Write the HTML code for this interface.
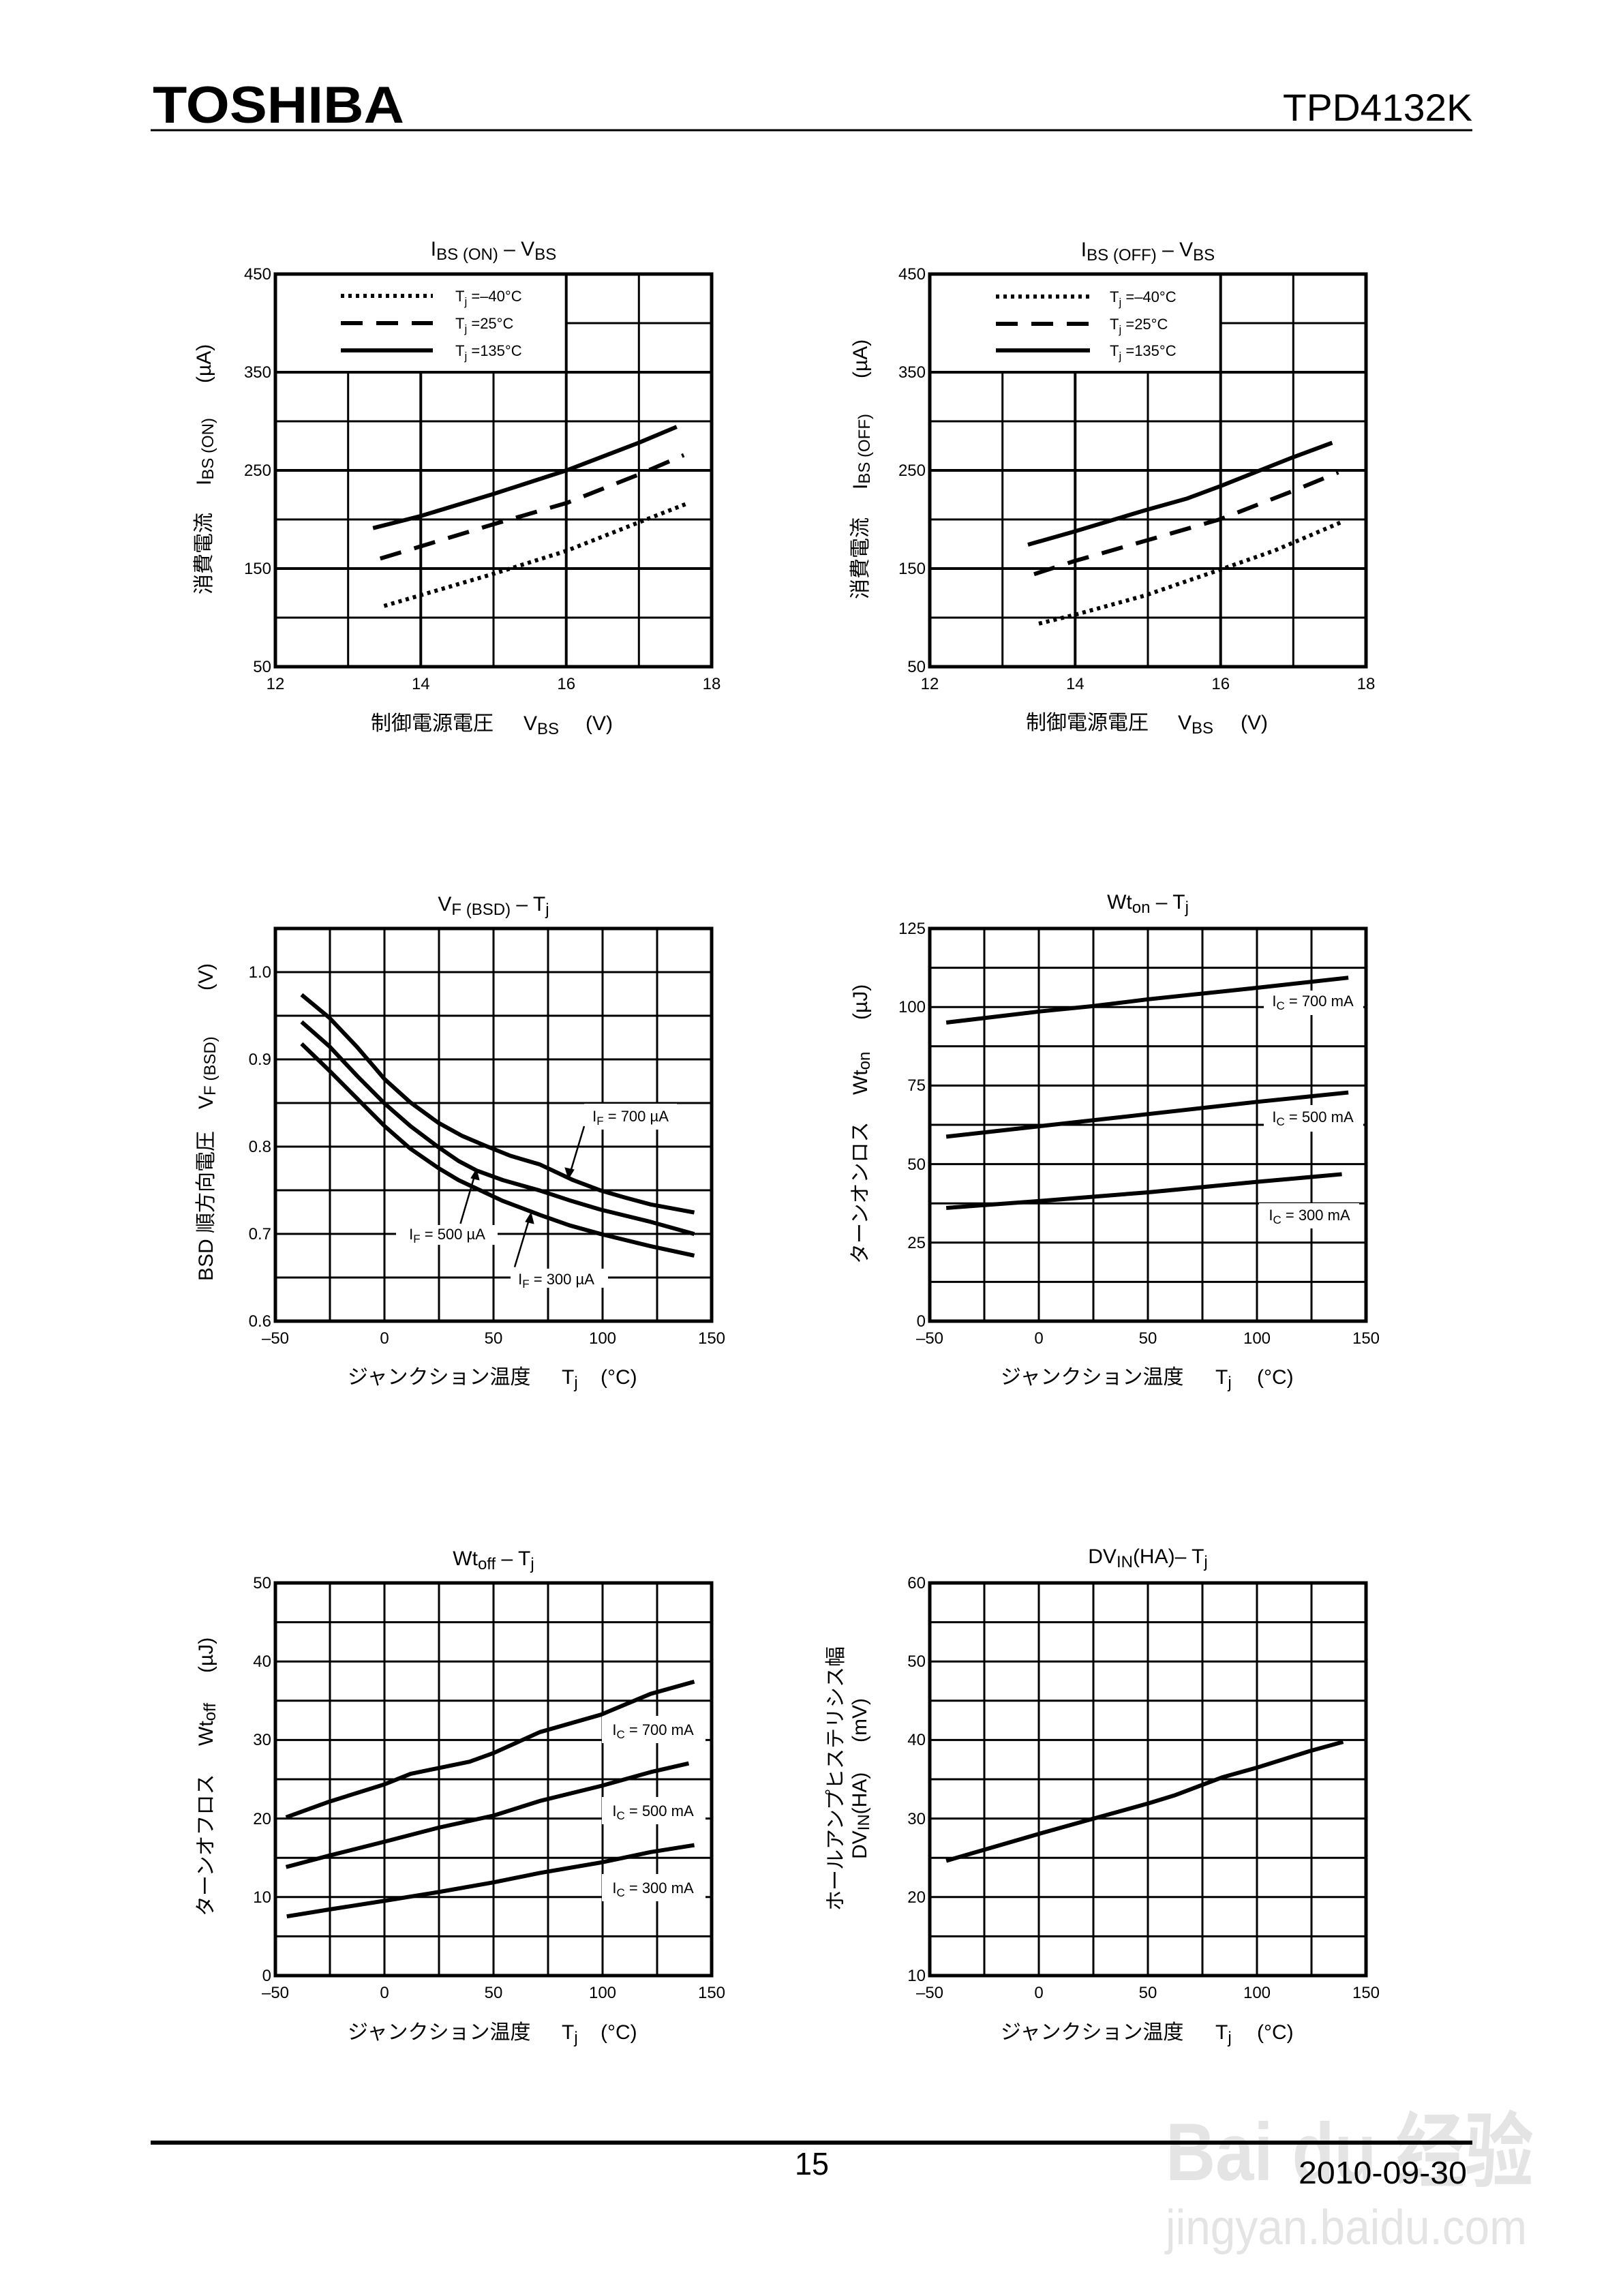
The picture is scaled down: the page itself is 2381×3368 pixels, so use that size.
<!DOCTYPE html>
<html><head><meta charset="utf-8"><style>
html,body{margin:0;padding:0;background:#fff}
svg{display:block}
text{font-family:"Liberation Sans","Noto Sans CJK JP",sans-serif;fill:#000}
.t{font-size:24px}
.ti{font-size:30px}
.ax{font-size:30px}
.lb{font-size:22px}
.c{fill:none;stroke:#000;stroke-width:6;stroke-linejoin:round;stroke-linecap:butt}
.g{stroke:#000;stroke-width:3}
.gm{stroke:#000;stroke-width:4}
.bx{fill:none;stroke:#000;stroke-width:5}
</style></head><body>
<svg width="2381" height="3368" viewBox="0 0 2381 3368" xmlns="http://www.w3.org/2000/svg">
<rect width="2381" height="3368" fill="#fff"/>
<!-- header -->
<text x="224" y="180" font-size="76" font-weight="bold" textLength="369" lengthAdjust="spacingAndGlyphs">TOSHIBA</text>
<text x="2160" y="177" font-size="56" text-anchor="end" textLength="278" lengthAdjust="spacingAndGlyphs">TPD4132K</text>
<line x1="221" y1="191" x2="2160" y2="191" stroke="#000" stroke-width="3"/>

<!-- ============ Chart 1 IBS(ON) ============ -->
<g>
<line class="g" x1="510.7" y1="546" x2="510.7" y2="978"/>
<line class="gm" x1="617.3" y1="546" x2="617.3" y2="978"/>
<line class="g" x1="724" y1="546" x2="724" y2="978"/>
<line class="gm" x1="830.7" y1="402" x2="830.7" y2="978"/>
<line class="g" x1="937.3" y1="402" x2="937.3" y2="978"/>
<line class="g" x1="830.7" y1="474" x2="1044" y2="474"/>
<line class="gm" x1="404" y1="546" x2="1044" y2="546"/>
<line class="g" x1="404" y1="618" x2="1044" y2="618"/>
<line class="gm" x1="404" y1="690" x2="1044" y2="690"/>
<line class="g" x1="404" y1="762" x2="1044" y2="762"/>
<line class="gm" x1="404" y1="834" x2="1044" y2="834"/>
<line class="g" x1="404" y1="906" x2="1044" y2="906"/>
<rect class="bx" x="404" y="402" width="640" height="576"/>
<polyline class="c" points="547.2,774.7 617.4,756.9 722.6,725 831.4,689.9 936.6,649.7 992.7,626.1"/>
<polyline class="c" stroke-dasharray="32 20" points="557.8,819.4 726.1,768.4 831.4,737.8 936.6,696.3 1003.2,667.6"/>
<polyline class="c" stroke-dasharray="5 6" points="563.4,888.9 726.1,841.1 831.4,807.9 936.6,766.5 1010.2,737.8"/>
<line class="c" stroke-dasharray="5 6" x1="500" y1="434" x2="635" y2="434"/>
<line class="c" stroke-dasharray="32 20" x1="500" y1="474" x2="635" y2="474"/>
<line class="c" x1="500" y1="514" x2="635" y2="514"/>
<text class="lb" x="668" y="442">T<tspan font-size="17" dy="6">j</tspan><tspan dy="-6"> =–40°C</tspan></text>
<text class="lb" x="668" y="482">T<tspan font-size="17" dy="6">j</tspan><tspan dy="-6"> =25°C</tspan></text>
<text class="lb" x="668" y="522">T<tspan font-size="17" dy="6">j</tspan><tspan dy="-6"> =135°C</tspan></text>
<text class="t" x="398" y="410" text-anchor="end">450</text>
<text class="t" x="398" y="554" text-anchor="end">350</text>
<text class="t" x="398" y="698" text-anchor="end">250</text>
<text class="t" x="398" y="842" text-anchor="end">150</text>
<text class="t" x="398" y="986" text-anchor="end">50</text>
<text class="t" x="404" y="1011" text-anchor="middle">12</text>
<text class="t" x="617.3" y="1011" text-anchor="middle">14</text>
<text class="t" x="830.7" y="1011" text-anchor="middle">16</text>
<text class="t" x="1044" y="1011" text-anchor="middle">18</text>
<text class="ti" x="724" y="375" text-anchor="middle">I<tspan font-size="24" dy="6">BS (ON)</tspan><tspan dy="-6"> – V</tspan><tspan font-size="24" dy="6">BS</tspan></text>
<text class="ax" x="544" y="1071">制御電源電圧</text>
<text class="ax" x="768" y="1071">V<tspan font-size="24" dy="6">BS</tspan></text>
<text class="ax" x="859" y="1071">(V)</text>
<g transform="translate(298,687) rotate(-90)">
<text class="ax" x="-185" y="11">消費電流</text>
<text class="ax" x="-25" y="11">I<tspan font-size="24" dy="4">BS (ON)</tspan></text>
<text class="ax" x="125" y="11">(µA)</text>
</g>
</g>

<!-- ============ Chart 2 IBS(OFF) ============ -->
<g>
<line class="g" x1="1470.7" y1="546" x2="1470.7" y2="978"/>
<line class="gm" x1="1577.3" y1="546" x2="1577.3" y2="978"/>
<line class="g" x1="1684" y1="546" x2="1684" y2="978"/>
<line class="gm" x1="1790.7" y1="402" x2="1790.7" y2="978"/>
<line class="g" x1="1897.3" y1="402" x2="1897.3" y2="978"/>
<line class="g" x1="1790.7" y1="474" x2="2004" y2="474"/>
<line class="gm" x1="1364" y1="546" x2="2004" y2="546"/>
<line class="g" x1="1364" y1="618" x2="2004" y2="618"/>
<line class="gm" x1="1364" y1="690" x2="2004" y2="690"/>
<line class="g" x1="1364" y1="762" x2="2004" y2="762"/>
<line class="gm" x1="1364" y1="834" x2="2004" y2="834"/>
<line class="g" x1="1364" y1="906" x2="2004" y2="906"/>
<rect class="bx" x="1364" y="402" width="640" height="576"/>
<polyline class="c" points="1508,799 1576.3,779.6 1678.3,749 1742.1,731.1 1789.9,713.3 1895.2,671.4 1954.4,649.5"/>
<polyline class="c" stroke-dasharray="32 20" points="1517,842.3 1576.3,823 1678.3,793.9 1789.9,761.7 1895.2,720.9 1963.4,692.9"/>
<polyline class="c" stroke-dasharray="5 6" points="1524,914.8 1576.3,902 1678.3,874 1789.9,835.7 1869.6,807.7 1971.7,764.3"/>
<line class="c" stroke-dasharray="5 6" x1="1461" y1="435" x2="1599" y2="435"/>
<line class="c" stroke-dasharray="32 20" x1="1461" y1="475" x2="1599" y2="475"/>
<line class="c" x1="1461" y1="514" x2="1599" y2="514"/>
<text class="lb" x="1628" y="443">T<tspan font-size="17" dy="6">j</tspan><tspan dy="-6"> =–40°C</tspan></text>
<text class="lb" x="1628" y="483">T<tspan font-size="17" dy="6">j</tspan><tspan dy="-6"> =25°C</tspan></text>
<text class="lb" x="1628" y="522">T<tspan font-size="17" dy="6">j</tspan><tspan dy="-6"> =135°C</tspan></text>
<text class="t" x="1358" y="410" text-anchor="end">450</text>
<text class="t" x="1358" y="554" text-anchor="end">350</text>
<text class="t" x="1358" y="698" text-anchor="end">250</text>
<text class="t" x="1358" y="842" text-anchor="end">150</text>
<text class="t" x="1358" y="986" text-anchor="end">50</text>
<text class="t" x="1364" y="1011" text-anchor="middle">12</text>
<text class="t" x="1577.3" y="1011" text-anchor="middle">14</text>
<text class="t" x="1790.7" y="1011" text-anchor="middle">16</text>
<text class="t" x="2004" y="1011" text-anchor="middle">18</text>
<text class="ti" x="1684" y="376" text-anchor="middle">I<tspan font-size="24" dy="6">BS (OFF)</tspan><tspan dy="-6"> – V</tspan><tspan font-size="24" dy="6">BS</tspan></text>
<text class="ax" x="1505" y="1070">制御電源電圧</text>
<text class="ax" x="1728" y="1070">V<tspan font-size="24" dy="6">BS</tspan></text>
<text class="ax" x="1820" y="1070">(V)</text>
<g transform="translate(1261,690) rotate(-90)">
<text class="ax" x="-189" y="11">消費電流</text>
<text class="ax" x="-28" y="11">I<tspan font-size="24" dy="4">BS (OFF)</tspan></text>
<text class="ax" x="135" y="11">(µA)</text>
</g>
</g>

<!-- ============ Chart 3 VF ============ -->
<g>
<g class="g">
<line x1="484" y1="1362" x2="484" y2="1938"/><line x1="564" y1="1362" x2="564" y2="1938"/>
<line x1="644" y1="1362" x2="644" y2="1938"/><line x1="724" y1="1362" x2="724" y2="1938"/>
<line x1="804" y1="1362" x2="804" y2="1938"/><line x1="884" y1="1362" x2="884" y2="1938"/>
<line x1="964" y1="1362" x2="964" y2="1938"/>
<line x1="404" y1="1426" x2="1044" y2="1426"/><line x1="404" y1="1490" x2="1044" y2="1490"/>
<line x1="404" y1="1554" x2="1044" y2="1554"/><line x1="404" y1="1618" x2="1044" y2="1618"/>
<line x1="404" y1="1682" x2="1044" y2="1682"/><line x1="404" y1="1746" x2="1044" y2="1746"/>
<line x1="404" y1="1810" x2="1044" y2="1810"/><line x1="404" y1="1874" x2="1044" y2="1874"/>
</g>
<rect x="857" y="1619" width="136" height="38" fill="#fff"/>
<rect x="581" y="1797" width="149" height="29" fill="#fff"/>
<rect x="749" y="1861" width="143" height="28" fill="#fff"/>
<rect class="bx" x="404" y="1362" width="640" height="576"/>
<g transform="translate(250,1300) scale(0.542,0.5102)">
<polyline class="c" vector-effect="non-scaling-stroke" points="355,312 430,378 505,462 580,555 650,622 725,680 790,718 850,745 920,775 1000,800 1090,845 1165,875 1230,895 1300,915 1418,938"/>
<polyline class="c" vector-effect="non-scaling-stroke" points="355,390 430,460 505,545 580,625 650,690 725,750 780,790 830,818 900,845 1000,875 1080,903 1165,930 1300,965 1418,1000"/>
<polyline class="c" vector-effect="non-scaling-stroke" points="355,453 430,530 505,610 580,690 650,755 725,810 780,845 830,870 900,905 1000,945 1080,975 1165,1000 1300,1035 1418,1062"/>
</g>
<g stroke="#000" stroke-width="2.5" fill="#000">
<line x1="857" y1="1652" x2="836" y2="1722"/><polygon points="834,1729 829,1713 842,1716" stroke-width="1"/>
<line x1="675.5" y1="1795" x2="697" y2="1722"/><polygon points="699,1715 703,1731 691,1728" stroke-width="1"/>
<line x1="755" y1="1858.7" x2="777" y2="1786"/><polygon points="779,1779 783,1795 771,1792" stroke-width="1"/>
</g>
<text class="lb" x="925" y="1645" text-anchor="middle">I<tspan font-size="17" dy="5">F</tspan><tspan dy="-5"> = 700 µA</tspan></text>
<text class="lb" x="656" y="1818" text-anchor="middle">I<tspan font-size="17" dy="5">F</tspan><tspan dy="-5"> = 500 µA</tspan></text>
<text class="lb" x="816" y="1884" text-anchor="middle">I<tspan font-size="17" dy="5">F</tspan><tspan dy="-5"> = 300 µA</tspan></text>
<text class="t" x="398" y="1434" text-anchor="end">1.0</text>
<text class="t" x="398" y="1562" text-anchor="end">0.9</text>
<text class="t" x="398" y="1690" text-anchor="end">0.8</text>
<text class="t" x="398" y="1818" text-anchor="end">0.7</text>
<text class="t" x="398" y="1946" text-anchor="end">0.6</text>
<text class="t" x="404" y="1971" text-anchor="middle">–50</text>
<text class="t" x="564" y="1971" text-anchor="middle">0</text>
<text class="t" x="724" y="1971" text-anchor="middle">50</text>
<text class="t" x="884" y="1971" text-anchor="middle">100</text>
<text class="t" x="1044" y="1971" text-anchor="middle">150</text>
<text class="ti" x="724" y="1336" text-anchor="middle">V<tspan font-size="24" dy="6">F (BSD)</tspan><tspan dy="-6"> – T</tspan><tspan font-size="24" dy="6">j</tspan></text>
<text class="ax" x="510" y="2030">ジャンクション温度</text>
<text class="ax" x="824" y="2030">T<tspan font-size="24" dy="6">j</tspan></text>
<text class="ax" x="881" y="2030">(°C)</text>
<g transform="translate(301,1650) rotate(-90)">
<text class="ax" x="-229" y="11">BSD 順方向電圧</text>
<text class="ax" x="23" y="11">V<tspan font-size="24" dy="4">F (BSD)</tspan></text>
<text class="ax" x="197" y="11">(V)</text>
</g>
</g>

<!-- ============ Chart 4 Wton ============ -->
<g>
<g class="g">
<line x1="1444" y1="1362" x2="1444" y2="1938"/><line x1="1524" y1="1362" x2="1524" y2="1938"/>
<line x1="1604" y1="1362" x2="1604" y2="1938"/><line x1="1684" y1="1362" x2="1684" y2="1938"/>
<line x1="1764" y1="1362" x2="1764" y2="1938"/><line x1="1844" y1="1362" x2="1844" y2="1938"/>
<line x1="1924" y1="1362" x2="1924" y2="1938"/>
<line x1="1364" y1="1419.6" x2="2004" y2="1419.6"/><line x1="1364" y1="1477.2" x2="2004" y2="1477.2"/>
<line x1="1364" y1="1534.8" x2="2004" y2="1534.8"/><line x1="1364" y1="1592.4" x2="2004" y2="1592.4"/>
<line x1="1364" y1="1650" x2="2004" y2="1650"/><line x1="1364" y1="1707.6" x2="2004" y2="1707.6"/>
<line x1="1364" y1="1765.2" x2="2004" y2="1765.2"/><line x1="1364" y1="1822.8" x2="2004" y2="1822.8"/>
<line x1="1364" y1="1880.4" x2="2004" y2="1880.4"/>
</g>
<rect x="1854" y="1453" width="146" height="36" fill="#fff"/>
<rect x="1854" y="1621" width="146" height="39" fill="#fff"/>
<rect x="1847" y="1765" width="147" height="37" fill="#fff"/>
<rect class="bx" x="1364" y="1362" width="640" height="576"/>
<g transform="translate(1200,1300) scale(0.6378,0.5102)">
<polyline class="c" vector-effect="non-scaling-stroke" points="295,392 510,360 630,345 760,325 1010,292 1220,263"/>
<polyline class="c" vector-effect="non-scaling-stroke" points="295,720 510,690 760,655 1010,620 1220,593"/>
<polyline class="c" vector-effect="non-scaling-stroke" points="295,925 510,905 760,880 1010,850 1205,828"/>
</g>
<text class="lb" x="1926" y="1476" text-anchor="middle">I<tspan font-size="17" dy="5">C</tspan><tspan dy="-5"> = 700 mA</tspan></text>
<text class="lb" x="1926" y="1646" text-anchor="middle">I<tspan font-size="17" dy="5">C</tspan><tspan dy="-5"> = 500 mA</tspan></text>
<text class="lb" x="1921" y="1790" text-anchor="middle">I<tspan font-size="17" dy="5">C</tspan><tspan dy="-5"> = 300 mA</tspan></text>
<text class="t" x="1358" y="1370" text-anchor="end">125</text>
<text class="t" x="1358" y="1485" text-anchor="end">100</text>
<text class="t" x="1358" y="1600" text-anchor="end">75</text>
<text class="t" x="1358" y="1716" text-anchor="end">50</text>
<text class="t" x="1358" y="1831" text-anchor="end">25</text>
<text class="t" x="1358" y="1946" text-anchor="end">0</text>
<text class="t" x="1364" y="1971" text-anchor="middle">–50</text>
<text class="t" x="1524" y="1971" text-anchor="middle">0</text>
<text class="t" x="1684" y="1971" text-anchor="middle">50</text>
<text class="t" x="1844" y="1971" text-anchor="middle">100</text>
<text class="t" x="2004" y="1971" text-anchor="middle">150</text>
<text class="ti" x="1684" y="1333" text-anchor="middle">Wt<tspan font-size="24" dy="6">on</tspan><tspan dy="-6"> – T</tspan><tspan font-size="24" dy="6">j</tspan></text>
<text class="ax" x="1468" y="2030">ジャンクション温度</text>
<text class="ax" x="1783" y="2030">T<tspan font-size="24" dy="6">j</tspan></text>
<text class="ax" x="1844" y="2030">(°C)</text>
<g transform="translate(1261,1649) rotate(-90)">
<text class="ax" x="-205" y="11">ターンオンロス</text>
<text class="ax" x="43" y="11">Wt<tspan font-size="24" dy="4">on</tspan></text>
<text class="ax" x="153" y="11">(µJ)</text>
</g>
</g>

<!-- ============ Chart 5 Wtoff ============ -->
<g>
<g class="g">
<line x1="484" y1="2322" x2="484" y2="2898"/><line x1="564" y1="2322" x2="564" y2="2898"/>
<line x1="644" y1="2322" x2="644" y2="2898"/><line x1="724" y1="2322" x2="724" y2="2898"/>
<line x1="804" y1="2322" x2="804" y2="2898"/><line x1="884" y1="2322" x2="884" y2="2898"/>
<line x1="964" y1="2322" x2="964" y2="2898"/>
<line x1="404" y1="2379.6" x2="1044" y2="2379.6"/><line x1="404" y1="2437.2" x2="1044" y2="2437.2"/>
<line x1="404" y1="2494.8" x2="1044" y2="2494.8"/><line x1="404" y1="2552.4" x2="1044" y2="2552.4"/>
<line x1="404" y1="2610" x2="1044" y2="2610"/><line x1="404" y1="2667.6" x2="1044" y2="2667.6"/>
<line x1="404" y1="2725.2" x2="1044" y2="2725.2"/><line x1="404" y1="2782.8" x2="1044" y2="2782.8"/>
<line x1="404" y1="2840.4" x2="1044" y2="2840.4"/>
</g>
<rect x="883" y="2517" width="152" height="40" fill="#fff"/>
<rect x="883" y="2636" width="152" height="40" fill="#fff"/>
<rect x="883" y="2749" width="152" height="40" fill="#fff"/>
<rect class="bx" x="404" y="2322" width="640" height="576"/>
<g transform="translate(250,2250) scale(0.542,0.5102)">
<polyline class="c" vector-effect="non-scaling-stroke" points="313,815 430,770 580,720 650,690 810,655 875,630 1000,570 1165,520 1300,460 1418,425"/>
<polyline class="c" vector-effect="non-scaling-stroke" points="313,958 430,925 580,885 725,845 875,810 1000,768 1165,725 1300,685 1403,660"/>
<polyline class="c" vector-effect="non-scaling-stroke" points="315,1100 430,1080 580,1055 725,1030 875,1002 1000,975 1165,945 1300,915 1418,895"/>
</g>
<text class="lb" x="958" y="2545" text-anchor="middle">I<tspan font-size="17" dy="5">C</tspan><tspan dy="-5"> = 700 mA</tspan></text>
<text class="lb" x="958" y="2664" text-anchor="middle">I<tspan font-size="17" dy="5">C</tspan><tspan dy="-5"> = 500 mA</tspan></text>
<text class="lb" x="958" y="2777" text-anchor="middle">I<tspan font-size="17" dy="5">C</tspan><tspan dy="-5"> = 300 mA</tspan></text>
<text class="t" x="398" y="2330" text-anchor="end">50</text>
<text class="t" x="398" y="2445" text-anchor="end">40</text>
<text class="t" x="398" y="2560" text-anchor="end">30</text>
<text class="t" x="398" y="2676" text-anchor="end">20</text>
<text class="t" x="398" y="2791" text-anchor="end">10</text>
<text class="t" x="398" y="2906" text-anchor="end">0</text>
<text class="t" x="404" y="2931" text-anchor="middle">–50</text>
<text class="t" x="564" y="2931" text-anchor="middle">0</text>
<text class="t" x="724" y="2931" text-anchor="middle">50</text>
<text class="t" x="884" y="2931" text-anchor="middle">100</text>
<text class="t" x="1044" y="2931" text-anchor="middle">150</text>
<text class="ti" x="724" y="2296" text-anchor="middle">Wt<tspan font-size="24" dy="6">off</tspan><tspan dy="-6"> – T</tspan><tspan font-size="24" dy="6">j</tspan></text>
<text class="ax" x="510" y="2991">ジャンクション温度</text>
<text class="ax" x="824" y="2991">T<tspan font-size="24" dy="6">j</tspan></text>
<text class="ax" x="881" y="2991">(°C)</text>
<g transform="translate(301,2608) rotate(-90)">
<text class="ax" x="-203" y="11">ターンオフロス</text>
<text class="ax" x="47" y="11">Wt<tspan font-size="24" dy="4">off</tspan></text>
<text class="ax" x="154" y="11">(µJ)</text>
</g>
</g>

<!-- ============ Chart 6 DVIN ============ -->
<g>
<g class="g">
<line x1="1444" y1="2322" x2="1444" y2="2898"/><line x1="1524" y1="2322" x2="1524" y2="2898"/>
<line x1="1604" y1="2322" x2="1604" y2="2898"/><line x1="1684" y1="2322" x2="1684" y2="2898"/>
<line x1="1764" y1="2322" x2="1764" y2="2898"/><line x1="1844" y1="2322" x2="1844" y2="2898"/>
<line x1="1924" y1="2322" x2="1924" y2="2898"/>
<line x1="1364" y1="2379.6" x2="2004" y2="2379.6"/><line x1="1364" y1="2437.2" x2="2004" y2="2437.2"/>
<line x1="1364" y1="2494.8" x2="2004" y2="2494.8"/><line x1="1364" y1="2552.4" x2="2004" y2="2552.4"/>
<line x1="1364" y1="2610" x2="2004" y2="2610"/><line x1="1364" y1="2667.6" x2="2004" y2="2667.6"/>
<line x1="1364" y1="2725.2" x2="2004" y2="2725.2"/><line x1="1364" y1="2782.8" x2="2004" y2="2782.8"/>
<line x1="1364" y1="2840.4" x2="2004" y2="2840.4"/>
</g>
<rect class="bx" x="1364" y="2322" width="640" height="576"/>
<g transform="translate(1200,2250) scale(0.6378,0.5102)">
<polyline class="c" vector-effect="non-scaling-stroke" points="295,940 510,862 630,820 760,775 820,752 930,700 1010,672 1130,625 1208,598"/>
</g>
<text class="t" x="1358" y="2330" text-anchor="end">60</text>
<text class="t" x="1358" y="2445" text-anchor="end">50</text>
<text class="t" x="1358" y="2560" text-anchor="end">40</text>
<text class="t" x="1358" y="2676" text-anchor="end">30</text>
<text class="t" x="1358" y="2791" text-anchor="end">20</text>
<text class="t" x="1358" y="2906" text-anchor="end">10</text>
<text class="t" x="1364" y="2931" text-anchor="middle">–50</text>
<text class="t" x="1524" y="2931" text-anchor="middle">0</text>
<text class="t" x="1684" y="2931" text-anchor="middle">50</text>
<text class="t" x="1844" y="2931" text-anchor="middle">100</text>
<text class="t" x="2004" y="2931" text-anchor="middle">150</text>
<text class="ti" x="1684" y="2293" text-anchor="middle">DV<tspan font-size="24" dy="6">IN</tspan><tspan dy="-6">(HA)– T</tspan><tspan font-size="24" dy="6">j</tspan></text>
<text class="ax" x="1468" y="2991">ジャンクション温度</text>
<text class="ax" x="1783" y="2991">T<tspan font-size="24" dy="6">j</tspan></text>
<text class="ax" x="1844" y="2991">(°C)</text>
<g transform="translate(1225,2609) rotate(-90)">
<text class="ax" x="0" y="11" text-anchor="middle" font-size="31">ホールアンプヒステリシス幅</text>
</g>
<g transform="translate(1260,2609) rotate(-90)">
<text class="ax" x="-118" y="11">DV<tspan font-size="24" dy="4">IN</tspan><tspan dy="-4">(HA)</tspan></text>
<text class="ax" x="53" y="11">(mV)</text>
</g>
</g>

<!-- footer -->
<text x="1710" y="3198" font-size="120" style="fill:#e4e4e4" font-weight="bold" textLength="540" lengthAdjust="spacingAndGlyphs">Bai du 经验</text>
<text x="1710" y="3292" font-size="72" style="fill:#e4e4e4" textLength="530" lengthAdjust="spacingAndGlyphs">jingyan.baidu.com</text>
<line x1="221" y1="3143" x2="2160" y2="3143" stroke="#000" stroke-width="6"/>
<text x="1191" y="3190" font-size="46" text-anchor="middle" textLength="50" lengthAdjust="spacingAndGlyphs">15</text>
<text x="1905" y="3203" font-size="46" textLength="247" lengthAdjust="spacingAndGlyphs">2010-09-30</text>
</svg>
</body></html>
